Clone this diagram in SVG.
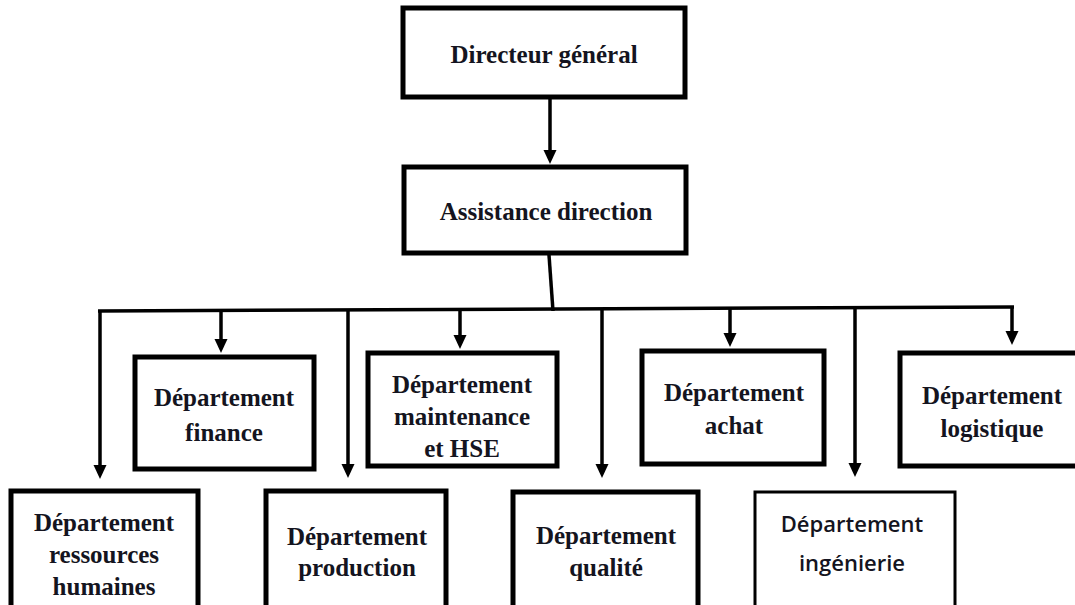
<svg xmlns="http://www.w3.org/2000/svg" width="1075" height="605" viewBox="0 0 1075 605">
<style>
.box{fill:#fff;stroke:#000;stroke-width:5}
.thin{fill:#fff;stroke:#000;stroke-width:3}
.t{font-family:"Liberation Serif","Times New Roman",serif;font-weight:bold;font-size:25px;fill:#141420;text-anchor:middle}
.s{font-family:"Open Sans","Noto Sans",sans-serif;font-weight:600;font-size:22px;fill:#141420;text-anchor:middle}
.c{fill:none;stroke:#000;stroke-width:3.5}
</style>
<defs>
<marker id="ah" markerUnits="userSpaceOnUse" markerWidth="14" markerHeight="14" refX="4" refY="6.5" orient="auto">
<path d="M0,0 L14,6.5 L0,13 Z" fill="#000"/>
</marker>
</defs>
<rect width="1075" height="605" fill="#fff"/>
<g id="connectors">
<path class="c" d="M550,99 V154" marker-end="url(#ah)"/>
<path class="c" d="M549,255 L553,311"/>
<path class="c" d="M98,311 L1014,307"/>
<path class="c" d="M100,311 V469" marker-end="url(#ah)"/>
<path class="c" d="M221,311 V343" marker-end="url(#ah)"/>
<path class="c" d="M348,310 V468" marker-end="url(#ah)"/>
<path class="c" d="M460,310 V339" marker-end="url(#ah)"/>
<path class="c" d="M602,309 V468" marker-end="url(#ah)"/>
<path class="c" d="M730,308 V337" marker-end="url(#ah)"/>
<path class="c" d="M855,308 V467" marker-end="url(#ah)"/>
<path class="c" d="M1012,307 V335" marker-end="url(#ah)"/>
</g>
<g id="directeur">
<rect class="box" x="403" y="8" width="282" height="89"/>
<text class="t" x="544" y="63">Directeur général</text>
</g>
<g id="assistance">
<rect class="box" x="404" y="167" width="282" height="86"/>
<text class="t" x="546" y="220">Assistance direction</text>
</g>
<g id="finance">
<rect class="box" x="135" y="357" width="179" height="112"/>
<text class="t" x="224" y="406">Département</text>
<text class="t" x="224" y="441">finance</text>
</g>
<g id="maintenance">
<rect class="box" x="368" y="353" width="189" height="113"/>
<text class="t" x="462" y="393">Département</text>
<text class="t" x="462" y="425">maintenance</text>
<text class="t" x="462" y="457">et HSE</text>
</g>
<g id="achat">
<rect class="box" x="642" y="351" width="182" height="113"/>
<text class="t" x="734" y="401">Département</text>
<text class="t" x="734" y="434">achat</text>
</g>
<g id="logistique">
<rect class="box" x="900" y="353" width="185" height="113"/>
<text class="t" x="992" y="404">Département</text>
<text class="t" x="992" y="437">logistique</text>
</g>
<g id="rh">
<rect class="box" x="11" y="491" width="187" height="125"/>
<text class="t" x="104" y="531">Département</text>
<text class="t" x="104" y="563">ressources</text>
<text class="t" x="104" y="595">humaines</text>
</g>
<g id="production">
<rect class="box" x="266" y="491" width="180" height="125"/>
<text class="t" x="357" y="545">Département</text>
<text class="t" x="357" y="576">production</text>
</g>
<g id="qualite">
<rect class="box" x="513" y="492" width="185" height="125"/>
<text class="t" x="606" y="544">Département</text>
<text class="t" x="606" y="576">qualité</text>
</g>
<g id="ingenierie">
<rect class="thin" x="755" y="492" width="200" height="125"/>
<text class="s" x="852" y="532">Département</text>
<text class="s" x="852" y="571">ingénierie</text>
</g>
</svg>
